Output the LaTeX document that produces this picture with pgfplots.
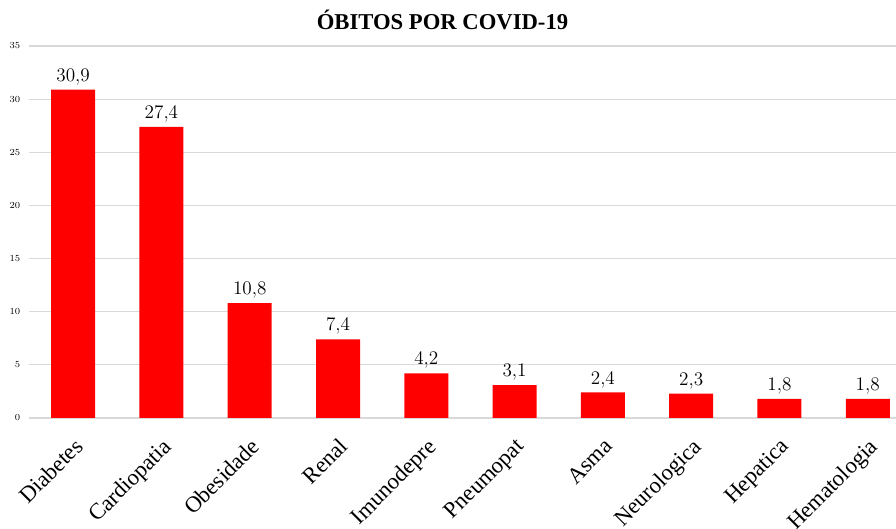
\documentclass[border=0pt]{standalone}
\usepackage{pgfplots}
\pgfplotsset{compat=1.18}
\usepackage{fontspec}
\setmainfont{Liberation Serif}
\definecolor{barred}{RGB}{255,0,0}
\definecolor{gridgray}{RGB}{217,217,217}
\begin{document}
\begin{tikzpicture}[x=1pt,y=1pt]
\begin{axis}[
  scale only axis,
  width=650.25pt, height=279pt,
  axis line style={draw=none},
  ymin=0, ymax=35,
  xmin=-0.5, xmax=9.32,
  ytick={0,5,...,35},
  ymajorgrids,
  grid style={gridgray, line width=0.9pt},
  xtick=data,
  xticklabels={Diabetes,Cardiopatia,Obesidade,Renal,Imunodepre,Pneumopat,Asma,Neurologica,Hepatica,Hematologia},
  x tick label style={yshift=-14pt, xshift=0pt, rotate=45, anchor=north east, font=\fontsize{17}{19}\selectfont, inner sep=0pt},
  y tick label style={font=\fontsize{7.5}{9}\selectfont, xshift=-3pt},
  major tick length=0pt,
  ybar, bar width=33pt,
  nodes near coords,
  nodes near coords style={font=\fontsize{15.5}{17}\selectfont, /pgf/number format/.cd, use comma, fixed, fixed zerofill, precision=1},
  clip=false,
]
\addplot[fill=barred, draw=none] coordinates {
(0,30.9) (1,27.4) (2,10.8) (3,7.4) (4,4.2) (5,3.1) (6,2.4) (7,2.3) (8,1.8) (9,1.8)
};
\end{axis}
\node[font=\bfseries\fontsize{17}{19}\selectfont] at ([xshift=-15pt,yshift=19.5pt]current axis.north) {ÓBITOS POR COVID-19};
\pgfresetboundingbox
\path[use as bounding box] ([xshift=-21.75pt,yshift=-83.25pt]current axis.south west) rectangle ([yshift=34.5pt]current axis.north east);
\end{tikzpicture}
\end{document}
